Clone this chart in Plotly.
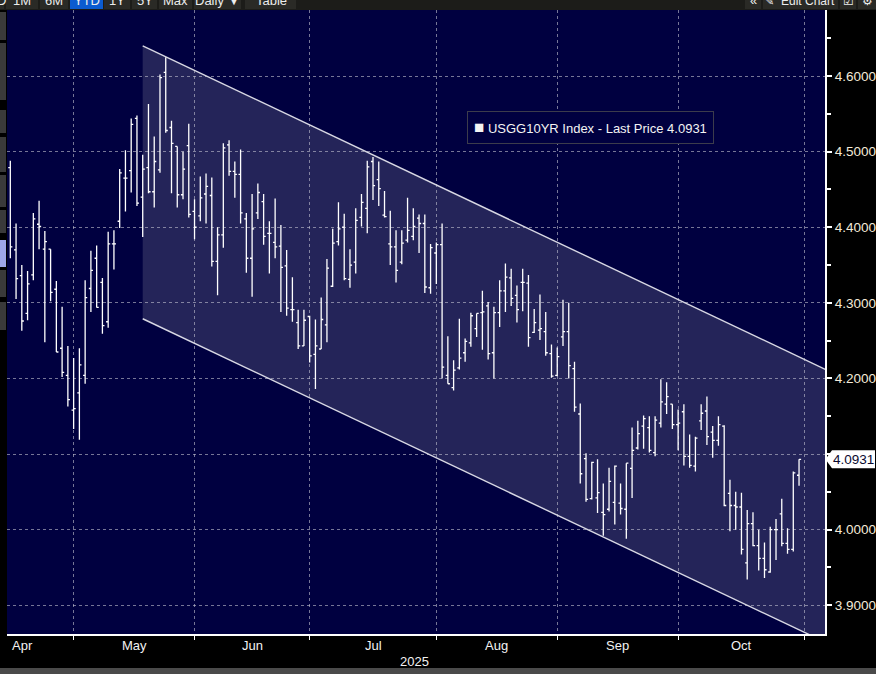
import pandas as pd
import plotly.graph_objects as go

# ---------------- data ----------------
holidays = ["2025-04-18", "2025-05-26", "2025-06-19", "2025-07-04", "2025-09-01", "2025-10-13"]
calendar = pd.bdate_range("2025-04-14", "2025-10-31", freq="C", holidays=holidays)

opens = [4.479, 4.370, 4.336, 4.286, 4.337, 4.404, 4.371, 4.371, 4.318, 4.240,
         4.204, 4.158, 4.181, 4.204, 4.319, 4.359, 4.327, 4.275, 4.378, 4.408,
         4.465, 4.475, 4.544, 4.440, 4.479, 4.447, 4.476, 4.605, 4.532, 4.507,
         4.443, 4.508, 4.421, 4.415, 4.444, 4.442, 4.355, 4.390, 4.509, 4.474,
         4.470, 4.411, 4.359, 4.419, 4.434, 4.392, 4.380, 4.375, 4.349, 4.291,
         4.274, 4.243, 4.282, 4.232, 4.239, 4.271, 4.322, 4.381, 4.400, 4.331,
         4.354, 4.413, 4.425, 4.487, 4.463, 4.416, 4.378, 4.374, 4.354, 4.383,
         4.388, 4.412, 4.405, 4.320, 4.366, 4.377, 4.204, 4.188, 4.214, 4.234,
         4.247, 4.266, 4.287, 4.296, 4.234, 4.287, 4.316, 4.333, 4.310, 4.327,
         4.326, 4.261, 4.264, 4.262, 4.233, 4.204, 4.255, 4.262, 4.213, 4.153,
         4.094, 4.041, 4.042, 4.023, 4.027, 4.036, 4.035, 4.027, 4.081, 4.108,
         4.137, 4.135, 4.102, 4.141, 4.166, 4.166, 4.139, 4.156, 4.097, 4.084,
         4.144, 4.157, 4.129, 4.118, 4.137, 4.048, 4.032, 4.030, 3.956, 4.008,
         3.979, 3.962, 3.944, 4.000, 4.021, 3.982, 3.974, 4.072]
highs = [4.488, 4.405, 4.350, 4.342, 4.419, 4.435, 4.395, 4.371, 4.329, 4.295,
         4.243, 4.227, 4.240, 4.330, 4.369, 4.376, 4.333, 4.394, 4.396, 4.477,
         4.502, 4.544, 4.548, 4.496, 4.563, 4.520, 4.602, 4.625, 4.541, 4.507,
         4.500, 4.537, 4.437, 4.467, 4.471, 4.466, 4.400, 4.511, 4.515, 4.487,
         4.503, 4.419, 4.444, 4.458, 4.444, 4.408, 4.438, 4.403, 4.370, 4.334,
         4.291, 4.291, 4.283, 4.278, 4.307, 4.358, 4.398, 4.433, 4.418, 4.371,
         4.425, 4.444, 4.488, 4.493, 4.487, 4.448, 4.422, 4.396, 4.396, 4.439,
         4.425, 4.417, 4.417, 4.378, 4.380, 4.405, 4.256, 4.224, 4.279, 4.253,
         4.287, 4.286, 4.316, 4.301, 4.295, 4.330, 4.352, 4.345, 4.323, 4.345,
         4.337, 4.292, 4.311, 4.288, 4.245, 4.241, 4.304, 4.300, 4.222, 4.167,
         4.101, 4.090, 4.093, 4.061, 4.082, 4.085, 4.061, 4.088, 4.135, 4.144,
         4.151, 4.150, 4.150, 4.199, 4.195, 4.166, 4.159, 4.166, 4.126, 4.123,
         4.166, 4.176, 4.137, 4.150, 4.138, 4.066, 4.050, 4.049, 4.026, 4.023,
         4.000, 3.983, 4.004, 4.014, 4.041, 4.002, 4.077, 4.093]
lows = [4.359, 4.305, 4.263, 4.277, 4.330, 4.371, 4.248, 4.302, 4.235, 4.202,
        4.163, 4.133, 4.119, 4.193, 4.288, 4.294, 4.259, 4.267, 4.344, 4.399,
        4.421, 4.446, 4.428, 4.387, 4.445, 4.426, 4.472, 4.525, 4.445, 4.426,
        4.437, 4.413, 4.384, 4.408, 4.405, 4.348, 4.310, 4.373, 4.468, 4.439,
        4.405, 4.340, 4.308, 4.411, 4.377, 4.339, 4.359, 4.288, 4.283, 4.275,
        4.239, 4.243, 4.221, 4.186, 4.239, 4.248, 4.321, 4.376, 4.330, 4.320,
        4.339, 4.401, 4.392, 4.436, 4.428, 4.413, 4.350, 4.327, 4.351, 4.380,
        4.383, 4.366, 4.313, 4.312, 4.325, 4.200, 4.193, 4.184, 4.212, 4.222,
        4.242, 4.255, 4.238, 4.225, 4.200, 4.268, 4.288, 4.296, 4.274, 4.289,
        4.242, 4.260, 4.251, 4.230, 4.201, 4.203, 4.243, 4.200, 4.156, 4.061,
        4.037, 4.040, 4.022, 3.992, 4.024, 4.007, 4.020, 3.988, 4.042, 4.106,
        4.107, 4.102, 4.097, 4.135, 4.153, 4.133, 4.105, 4.085, 4.082, 4.077,
        4.132, 4.112, 4.095, 4.111, 4.031, 3.998, 4.000, 3.967, 3.934, 3.978,
        3.946, 3.936, 3.943, 3.960, 3.978, 3.968, 3.971, 4.058]
closes = [4.374, 4.332, 4.276, 4.325, 4.411, 4.401, 4.381, 4.314, 4.235, 4.208,
          4.172, 4.160, 4.218, 4.307, 4.343, 4.294, 4.270, 4.378, 4.378, 4.472,
          4.465, 4.536, 4.432, 4.477, 4.447, 4.487, 4.598, 4.528, 4.511, 4.443,
          4.477, 4.417, 4.400, 4.439, 4.454, 4.355, 4.390, 4.505, 4.474, 4.470,
          4.419, 4.359, 4.398, 4.446, 4.388, 4.392, 4.374, 4.347, 4.293, 4.291,
          4.243, 4.277, 4.230, 4.243, 4.278, 4.346, 4.379, 4.398, 4.332, 4.350,
          4.409, 4.433, 4.480, 4.455, 4.451, 4.414, 4.374, 4.343, 4.379, 4.396,
          4.401, 4.405, 4.321, 4.373, 4.377, 4.215, 4.193, 4.211, 4.227, 4.249,
          4.283, 4.286, 4.288, 4.233, 4.287, 4.316, 4.334, 4.306, 4.291, 4.327,
          4.254, 4.274, 4.266, 4.234, 4.203, 4.229, 4.262, 4.217, 4.162, 4.074,
          4.040, 4.089, 4.049, 4.020, 4.064, 4.084, 4.028, 4.088, 4.105, 4.127,
          4.147, 4.105, 4.145, 4.169, 4.176, 4.139, 4.141, 4.097, 4.085, 4.121,
          4.154, 4.123, 4.118, 4.139, 4.032, 4.032, 4.030, 3.974, 4.008, 3.979,
          3.962, 3.947, 4.000, 4.000, 3.982, 3.974, 4.075, 4.0931]

# trend channel drawn on the chart (bar index, yield)
channel_x = [23, 141.6]
channel_top = [4.640, 4.212]
channel_bottom = [4.279, 3.851]

y_ticks = [3.9, 4.0, 4.1, 4.2, 4.3, 4.4, 4.5, 4.6]
security = "USGG10YR Index"
year_label = "2025"

# ---------------- geometry helpers ----------------
n = len(closes)
xs = list(range(n))
dates = calendar[:n]
cal = pd.Series(range(len(calendar)), index=calendar)
month_end_idx = cal.groupby(calendar.to_period("M")).max()
month_names = [p.strftime("%b") for p in month_end_idx.index]
month_end = [int(v) for v in month_end_idx.values]

W, H = 876, 674
ML, MR, MT, MB = 7, 51, 10, 40
PW, PH = W - ML - MR, H - MT - MB
x_range = [-0.573, 141.51]
y_range = [3.862, 4.6874]

NAVY = "#000040"
FONT = "Liberation Sans, Arial, sans-serif"
GRID = "rgba(190,190,205,0.62)"
last = closes[-1]

fig = go.Figure()

fig.add_trace(go.Ohlc(
    x=xs, open=opens, high=highs, low=lows, close=closes,
    increasing=dict(line=dict(color="white", width=1.3)),
    decreasing=dict(line=dict(color="white", width=1.3)),
    tickwidth=0.36,
    text=[d.strftime("%Y-%m-%d") for d in dates],
    hoverinfo="text+y",
    showlegend=False,
))

px = lambda p: (p - ML) / PW
py = lambda p: (H - MB - p) / PH

shapes = []
# channel fill (below gridlines)
path = (f"M {channel_x[0]},{channel_top[0]} L {channel_x[1]},{channel_top[1]} "
        f"L {channel_x[1]},{channel_bottom[1]} L {channel_x[0]},{channel_bottom[0]} Z")
shapes.append(dict(type="path", path=path, xref="x", yref="y", layer="below",
                   fillcolor="#242459", line=dict(width=0)))
for ys in (channel_top, channel_bottom):
    shapes.append(dict(type="line", xref="x", yref="y", layer="between",
                       x0=channel_x[0], y0=ys[0], x1=channel_x[1], y1=ys[1],
                       line=dict(color="#d8d8e4", width=1.4)))

# top toolbar strip
shapes.append(dict(type="rect", xref="paper", yref="paper", x0=px(0), x1=px(W),
                   y0=py(10), y1=py(-5), fillcolor="#1c1c19", line=dict(width=0), layer="above"))
for a, b in [(0, 4), (6, 38), (40, 68), (104, 130), (132, 157), (159, 192), (194, 241), (245, 296)]:
    shapes.append(dict(type="rect", xref="paper", yref="paper", x0=px(a), x1=px(b),
                       y0=py(9), y1=py(-5), fillcolor="#2a2a26", line=dict(width=0), layer="above"))
shapes.append(dict(type="rect", xref="paper", yref="paper", x0=px(70), x1=px(103),
                   y0=py(9), y1=py(-5), fillcolor="#0b5bd0", line=dict(width=0), layer="above"))
for a, b in [(745, 761), (763, 838), (840, 856), (858, 876)]:
    shapes.append(dict(type="rect", xref="paper", yref="paper", x0=px(a), x1=px(b),
                       y0=py(9), y1=py(-5), fillcolor="#2a2a26", line=dict(width=0), layer="above"))
# left tool strip
for a, b, c in [(12, 40, "#3a3a3a"), (43, 100, "#3a3a3a"), (110, 133, "#3a3a3a"),
                (137, 172, "#3a3a3a"), (175, 207, "#3a3a3a"), (210, 233, "#3a3a3a"),
                (240, 267, "#9ea6e8"), (270, 297, "#3a3a3a"), (302, 330, "#3a3a3a")]:
    shapes.append(dict(type="rect", xref="paper", yref="paper", x0=px(0), x1=px(6),
                       y0=py(b), y1=py(a), fillcolor=c, line=dict(width=0), layer="above"))
# bottom scroll bar
shapes.append(dict(type="rect", xref="paper", yref="paper", x0=px(0), x1=px(W),
                   y0=py(674), y1=py(668), fillcolor="#4a4a4a", line=dict(width=0), layer="above"))

# last price tag
half = 9 / (PH / (y_range[1] - y_range[0]))
shapes.append(dict(type="path", xref="paper", yref="y", layer="above",
                   path=f"M 1.0005,{last} L {1 + 7 / PW},{last + half} L {1 + 50 / PW},{last + half} "
                        f"L {1 + 50 / PW},{last - half} L {1 + 7 / PW},{last - half} Z",
                   fillcolor="white", line=dict(width=0)))

annotations = []
# month labels centred on each month span
prev = None
for name, idx in zip(month_names, month_end):
    if prev is None:
        annotations.append(dict(x=x_range[0], xref="x", xanchor="left", xshift=3,
                                y=0, yref="paper", yanchor="top", yshift=-2,
                                text=name, showarrow=False,
                                font=dict(family=FONT, size=13, color="#f2f2f2")))
    else:
        annotations.append(dict(x=(prev + idx) / 2, xref="x", xanchor="center",
                                y=0, yref="paper", yanchor="top", yshift=-2,
                                text=name, showarrow=False,
                                font=dict(family=FONT, size=13, color="#f2f2f2")))
    prev = idx
annotations.append(dict(x=month_end[3], xref="x", xanchor="right", xshift=-5,
                        y=0, yref="paper", yanchor="top", yshift=-18,
                        text=year_label, showarrow=False,
                        font=dict(family=FONT, size=13, color="#f2f2f2")))

# legend box
annotations.append(dict(x=px(590), y=py(127), xref="paper", yref="paper",
                        xanchor="center", yanchor="middle",
                        text=f"<span style='font-size:17px'>■</span> {security} - Last Price {last:.4f}",
                        showarrow=False, bgcolor=NAVY, bordercolor="#3c3c4c", borderwidth=1,
                        borderpad=6, font=dict(family=FONT, size=13, color="#f4f4f4")))
# last price tag text
annotations.append(dict(x=1, xref="paper", xanchor="left", xshift=6, y=last, yref="y",
                        yanchor="middle",
                        text=f"{last:.4f}", showarrow=False,
                        font=dict(family=FONT, size=13.5, color="#0a0a30")))

# toolbar texts (only their lower part shows)
for label, cx, fs in [("D", 1, 13), ("1M", 22, 13), ("6M", 54, 13),
                      ("YTD", 87, 13), ("1Y", 117, 13), ("5Y", 145, 13),
                      ("Max", 175, 13), ("Daily ▼", 217, 13), ("Table", 271, 13),
                      ("«", 753, 13), ("✎", 769, 11), ("Edit Chart", 808, 12),
                      ("☑", 848, 12), ("⚙", 867, 12)]:
    annotations.append(dict(x=px(cx), y=1, xref="paper", yref="paper",
                            xanchor="center", yanchor="middle",
                            yshift=9.5, text=label, showarrow=False,
                            font=dict(family=FONT, size=fs, color="#ececec")))

fig.update_layout(
    width=W, height=H,
    margin=dict(l=ML, r=MR, t=MT, b=MB, autoexpand=False),
    paper_bgcolor="black",
    plot_bgcolor=NAVY,
    shapes=shapes,
    annotations=annotations,
    showlegend=False,
    xaxis=dict(
        range=x_range, showgrid=True, gridcolor=GRID, griddash="dot", gridwidth=1,
        tickmode="array", tickvals=month_end, showticklabels=False,
        ticks="outside", ticklen=4, tickcolor="white", tickwidth=1,
        showline=True, linecolor="white", linewidth=2, zeroline=False,
        rangeslider=dict(visible=False), fixedrange=True, automargin=False,
    ),
    yaxis=dict(
        side="right", range=y_range, tickmode="array", tickvals=y_ticks,
        ticktext=["" if abs(v - last) < 0.03 else f"{v:.4f}" for v in y_ticks],
        showgrid=True, gridcolor=GRID, griddash="dot", gridwidth=1,
        ticks="outside", ticklen=5, tickwidth=2, tickcolor="white",
        minor=dict(tickmode="array", tickvals=[v + 0.05 for v in y_ticks],
                   ticks="outside", ticklen=4, tickcolor="white", showgrid=False),
        showline=True, linecolor="white", linewidth=2, zeroline=False,
        tickfont=dict(family=FONT, size=13.5, color="#f4ead8"),
        fixedrange=True, automargin=False,
    ),
)

fig.write_html("out.html", config={"displayModeBar": False},
               post_script="document.body.style.margin='0';document.body.style.background='black';")
